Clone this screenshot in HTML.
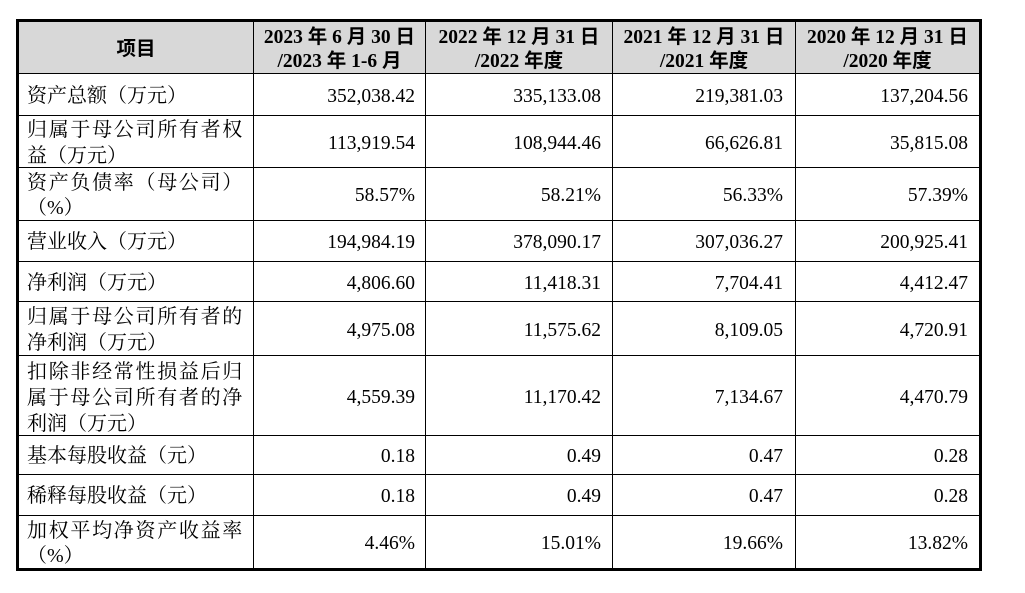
<!DOCTYPE html>
<html><head><meta charset="utf-8">
<style>
html,body{margin:0;padding:0;background:#fff;}
body{width:1025px;height:593px;position:relative;overflow:hidden;}
.l{position:absolute;background:#000;}
.c{position:absolute;display:flex;flex-direction:column;justify-content:center;line-height:25.5px;white-space:nowrap;color:#000;transform:translateY(2px);}
.lab{left:27px;width:226px;font-family:"Liberation Serif","Noto Serif CJK SC",serif;font-size:20px;}
.j{letter-spacing:1.7px;}
.n{font-family:"Liberation Serif",serif;font-size:19.5px;align-items:flex-end;}
.h{font-family:"Liberation Serif","Noto Sans CJK SC",sans-serif;font-weight:bold;font-size:19.5px;align-items:center;line-height:24px;top:22px;height:51px;}
.c2{left:254px;width:161px;}
.c3{left:426px;width:175px;}
.c4{left:613px;width:170px;}
.c5{left:796px;width:172px;}
</style></head><body>
<div style="position:absolute;left:19px;top:22px;width:960px;height:51px;background:#d8d8d8;"></div>

<!-- outer borders -->
<div class="l" style="left:16px;top:19px;width:966px;height:3px;"></div>
<div class="l" style="left:16px;top:568px;width:966px;height:3px;"></div>
<div class="l" style="left:16px;top:19px;width:3px;height:552px;"></div>
<div class="l" style="left:979px;top:19px;width:3px;height:552px;"></div>
<!-- verticals -->
<div class="l" style="left:253px;top:22px;width:1px;height:546px;"></div>
<div class="l" style="left:425px;top:22px;width:1px;height:546px;"></div>
<div class="l" style="left:612px;top:22px;width:1px;height:546px;"></div>
<div class="l" style="left:795px;top:22px;width:1px;height:546px;"></div>
<!-- horizontals -->
<div class="l" style="left:19px;top:73px;width:960px;height:1px;"></div>
<div class="l" style="left:19px;top:115px;width:960px;height:1px;"></div>
<div class="l" style="left:19px;top:167px;width:960px;height:1px;"></div>
<div class="l" style="left:19px;top:220px;width:960px;height:1px;"></div>
<div class="l" style="left:19px;top:261px;width:960px;height:1px;"></div>
<div class="l" style="left:19px;top:301px;width:960px;height:1px;"></div>
<div class="l" style="left:19px;top:355px;width:960px;height:1px;"></div>
<div class="l" style="left:19px;top:435px;width:960px;height:1px;"></div>
<div class="l" style="left:19px;top:474px;width:960px;height:1px;"></div>
<div class="l" style="left:19px;top:515px;width:960px;height:1px;"></div>

<!-- header -->
<div class="c h" style="left:19px;width:234px;">项目</div>
<div class="c h c2" style="left:254px;width:171px;"><div>2023 年 6 月 30 日</div><div>/2023 年 1-6 月</div></div>
<div class="c h" style="left:426px;width:186px;"><div>2022 年 12 月 31 日</div><div>/2022 年度</div></div>
<div class="c h" style="left:613px;width:182px;"><div>2021 年 12 月 31 日</div><div>/2021 年度</div></div>
<div class="c h" style="left:796px;width:183px;"><div>2020 年 12 月 31 日</div><div>/2020 年度</div></div>

<!-- row 1 -->
<div class="c lab" style="top:74px;height:41px;">资产总额（万元）</div>
<div class="c n c2" style="top:74px;height:41px;">352,038.42</div>
<div class="c n c3" style="top:74px;height:41px;">335,133.08</div>
<div class="c n c4" style="top:74px;height:41px;">219,381.03</div>
<div class="c n c5" style="top:74px;height:41px;">137,204.56</div>
<!-- row 2 -->
<div class="c lab" style="top:116px;height:51px;"><div class="j">归属于母公司所有者权</div><div>益（万元）</div></div>
<div class="c n c2" style="top:116px;height:51px;">113,919.54</div>
<div class="c n c3" style="top:116px;height:51px;">108,944.46</div>
<div class="c n c4" style="top:116px;height:51px;">66,626.81</div>
<div class="c n c5" style="top:116px;height:51px;">35,815.08</div>
<!-- row 3 -->
<div class="c lab" style="top:168px;height:52px;"><div class="j">资产负债率（母公司）</div><div>（%）</div></div>
<div class="c n c2" style="top:168px;height:52px;">58.57%</div>
<div class="c n c3" style="top:168px;height:52px;">58.21%</div>
<div class="c n c4" style="top:168px;height:52px;">56.33%</div>
<div class="c n c5" style="top:168px;height:52px;">57.39%</div>
<!-- row 4 -->
<div class="c lab" style="top:221px;height:40px;">营业收入（万元）</div>
<div class="c n c2" style="top:221px;height:40px;">194,984.19</div>
<div class="c n c3" style="top:221px;height:40px;">378,090.17</div>
<div class="c n c4" style="top:221px;height:40px;">307,036.27</div>
<div class="c n c5" style="top:221px;height:40px;">200,925.41</div>
<!-- row 5 -->
<div class="c lab" style="top:262px;height:39px;">净利润（万元）</div>
<div class="c n c2" style="top:262px;height:39px;">4,806.60</div>
<div class="c n c3" style="top:262px;height:39px;">11,418.31</div>
<div class="c n c4" style="top:262px;height:39px;">7,704.41</div>
<div class="c n c5" style="top:262px;height:39px;">4,412.47</div>
<!-- row 6 -->
<div class="c lab" style="top:302px;height:53px;"><div class="j">归属于母公司所有者的</div><div>净利润（万元）</div></div>
<div class="c n c2" style="top:302px;height:53px;">4,975.08</div>
<div class="c n c3" style="top:302px;height:53px;">11,575.62</div>
<div class="c n c4" style="top:302px;height:53px;">8,109.05</div>
<div class="c n c5" style="top:302px;height:53px;">4,720.91</div>
<!-- row 7 -->
<div class="c lab" style="top:356px;height:79px;line-height:26px;"><div class="j">扣除非经常性损益后归</div><div class="j">属于母公司所有者的净</div><div>利润（万元）</div></div>
<div class="c n c2" style="top:356px;height:79px;">4,559.39</div>
<div class="c n c3" style="top:356px;height:79px;">11,170.42</div>
<div class="c n c4" style="top:356px;height:79px;">7,134.67</div>
<div class="c n c5" style="top:356px;height:79px;">4,470.79</div>
<!-- row 8 -->
<div class="c lab" style="top:436px;height:38px;">基本每股收益（元）</div>
<div class="c n c2" style="top:436px;height:38px;">0.18</div>
<div class="c n c3" style="top:436px;height:38px;">0.49</div>
<div class="c n c4" style="top:436px;height:38px;">0.47</div>
<div class="c n c5" style="top:436px;height:38px;">0.28</div>
<!-- row 9 -->
<div class="c lab" style="top:475px;height:40px;">稀释每股收益（元）</div>
<div class="c n c2" style="top:475px;height:40px;">0.18</div>
<div class="c n c3" style="top:475px;height:40px;">0.49</div>
<div class="c n c4" style="top:475px;height:40px;">0.47</div>
<div class="c n c5" style="top:475px;height:40px;">0.28</div>
<!-- row 10 -->
<div class="c lab" style="top:516px;height:52px;"><div class="j">加权平均净资产收益率</div><div>（%）</div></div>
<div class="c n c2" style="top:516px;height:52px;">4.46%</div>
<div class="c n c3" style="top:516px;height:52px;">15.01%</div>
<div class="c n c4" style="top:516px;height:52px;">19.66%</div>
<div class="c n c5" style="top:516px;height:52px;">13.82%</div>
</body></html>
